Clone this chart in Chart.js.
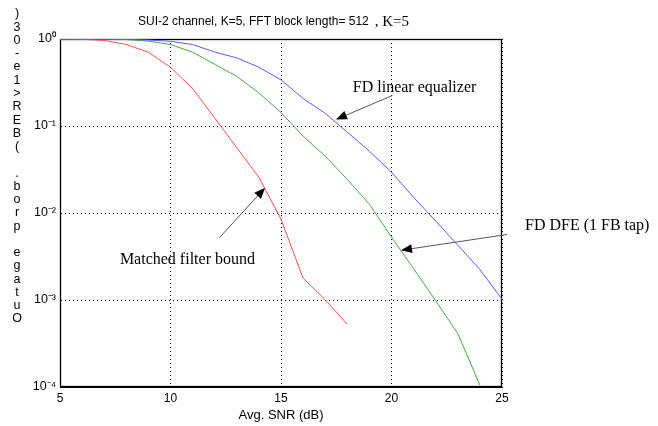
<!DOCTYPE html>
<html><head><meta charset="utf-8">
<script src="https://cdn.jsdelivr.net/npm/chart.js@4/dist/chart.umd.min.js"></script>
<style>html,body{margin:0;padding:0;background:#fff;}#wrap{width:658px;height:426px;position:relative;}</style>
</head><body><div id="wrap"><canvas id="c" width="658" height="426"></canvas></div>
<script>
// ---- data ----
const snr = [5,6,7,8,9,10,11,12,13,14,15,16,17,18,19,20,21,22,23,24,25];
const matchedFilterBound = [1.0,0.993,0.962,0.865,0.705,0.474,0.269,0.124,0.0562,0.0257,0.0085,0.00178,0.00101,0.000525];
const fdDfe = [1.0,1.0,0.997,0.985,0.944,0.865,0.705,0.513,0.372,0.24,0.143,0.0764,0.045,0.0243,0.0126,0.0053,0.00229,0.00098,0.000412,0.000105];
const fdLinear = [1.0,1.0,0.998,0.99,0.975,0.94,0.865,0.708,0.607,0.474,0.339,0.207,0.14,0.0851,0.0513,0.0295,0.0151,0.0081,0.00427,0.00224,0.00102];
const xTicks = [5,10,15,20,25];
const yTicks = [1e-4,1e-3,1e-2,1e-1,1];
const yTickLabels = ['10\u207B\u2074','10\u207B\u00B3','10\u207B\u00B2','10\u207B\u00B9','10\u2070'];
const titleMain = 'SUI-2 channel, K=5, FFT block length= 512';
const titleTail = ', K=5';
const xAxisTitle = 'Avg. SNR (dB)';
const yAxisTitle = 'Outage prob. (BER>1e-03)';
const annoTexts = ['FD linear equalizer','Matched filter bound','FD DFE (1 FB tap)'];
const annoTextAt = [[18.25,0.277],[7.71,0.00292],[26.04,0.00705]];
const annoTail = [[20.04,0.224],[12.21,0.00519],[25.23,0.00566]];
const annoTip = [[17.49,0.119],[14.28,0.0195],[20.43,0.00373]];

const toPts = arr => arr.map((v,i)=>({x:snr[i],y:v}));

const SANS = '"Liberation Sans", Arial, Helvetica, sans-serif';
const SERIF = '"Liberation Serif", "Times New Roman", serif';

const decor = {
  id:'decor',
  beforeDatasetsDraw(chart){
    const {ctx, chartArea:a} = chart;
    ctx.save();
    ctx.strokeStyle='#000'; ctx.lineWidth=1.3;
    ctx.strokeRect(a.left+0.5, a.top+0.5, a.right-a.left-1, a.bottom-a.top-1);
    ctx.restore();
  },
  afterDraw(chart){
    const {ctx, chartArea:a, scales} = chart;
    const xs = scales.x, ys = scales.y;
    ctx.save();
    // title
    ctx.fillStyle='#000'; ctx.textBaseline='middle';
    ctx.font='12px '+SANS;
    const w1 = ctx.measureText(titleMain).width;
    ctx.font='15px '+SERIF;
    const gap = 6;
    const w2 = ctx.measureText(titleTail).width;
    const cx = (a.left+a.right)/2 - 7.5;
    let sx = cx - (w1+gap+w2)/2;
    ctx.textAlign='left';
    ctx.font='12px '+SANS; ctx.fillText(titleMain, sx, 22);
    ctx.font='15px '+SERIF; ctx.fillText(titleTail, sx+w1+gap, 22);
    // x axis title
    ctx.font='13px '+SANS; ctx.textAlign='center';
    ctx.fillText(xAxisTitle, (a.left+a.right)/2, 415);
    // y axis title: stacked, upright characters in reverse order
    ctx.font='12.5px '+SANS;
    const chars = yAxisTitle.split('').reverse();
    chars.forEach((ch,i)=>{ ctx.fillText(ch, 17, 14 + i*13.26); });
    // annotations
    for(let i=0;i<annoTexts.length;i++){
      const tx = xs.getPixelForValue(annoTail[i][0]), ty = ys.getPixelForValue(annoTail[i][1]);
      const px = xs.getPixelForValue(annoTip[i][0]), py = ys.getPixelForValue(annoTip[i][1]);
      const ang = Math.atan2(py-ty, px-tx);
      const L = 11, H = 4.5;
      const bx = px - L*Math.cos(ang), by = py - L*Math.sin(ang);
      ctx.strokeStyle='#555'; ctx.lineWidth=1;
      ctx.beginPath(); ctx.moveTo(tx,ty); ctx.lineTo(bx,by); ctx.stroke();
      ctx.fillStyle='#000';
      ctx.beginPath(); ctx.moveTo(px,py);
      ctx.lineTo(bx + H*Math.sin(ang), by - H*Math.cos(ang));
      ctx.lineTo(bx - H*Math.sin(ang), by + H*Math.cos(ang));
      ctx.closePath(); ctx.fill();
      ctx.font='16px '+SERIF; ctx.textAlign='left'; ctx.textBaseline='middle';
      ctx.fillText(annoTexts[i], xs.getPixelForValue(annoTextAt[i][0]), ys.getPixelForValue(annoTextAt[i][1]));
    }
    ctx.restore();
  }
};

new Chart(document.getElementById('c'), {
  type:'line',
  data:{ datasets:[
    {label:'FD linear equalizer', data:toPts(fdLinear), borderColor:'rgb(90,90,255)', borderWidth:1, pointRadius:0, tension:0, fill:false},
    {label:'FD DFE (1 FB tap)', data:toPts(fdDfe), borderColor:'rgb(70,170,70)', borderWidth:1, pointRadius:0, tension:0, fill:false},
    {label:'Matched filter bound', data:toPts(matchedFilterBound), borderColor:'rgb(255,80,80)', borderWidth:1, pointRadius:0, tension:0, fill:false}
  ]},
  options:{
    responsive:false, animation:false, devicePixelRatio:1,
    layout:{padding:{top:39,right:156,left:0,bottom:0}},
    plugins:{legend:{display:false}, title:{display:false}, tooltip:{enabled:false}},
    scales:{
      x:{type:'linear', min:5, max:25,
        afterBuildTicks:s=>{ s.ticks = xTicks.map(v=>({value:v})); },
        afterFit:s=>{ s.height = 39; },
        grid:{color:'#000', lineWidth:1, drawTicks:false},
        border:{display:true, color:'#000', width:1, dash:[1,3]},
        ticks:{padding:4, color:'#000', font:{family:SANS, size:12}, maxRotation:0, autoSkip:false}
      },
      y:{type:'logarithmic', min:1e-4, max:1,
        afterBuildTicks:s=>{ s.ticks = yTicks.map(v=>({value:v})); },
        afterFit:s=>{ s.width = 60; },
        grid:{color:'#000', lineWidth:1, drawTicks:false},
        border:{display:true, color:'#000', width:1, dash:[1,3]},
        ticks:{padding:4, color:'#000', font:{family:SANS, size:12.5}, autoSkip:false,
          callback:(v,i)=>yTickLabels[i]}
      }
    }
  },
  plugins:[decor]
});
</script></body></html>
